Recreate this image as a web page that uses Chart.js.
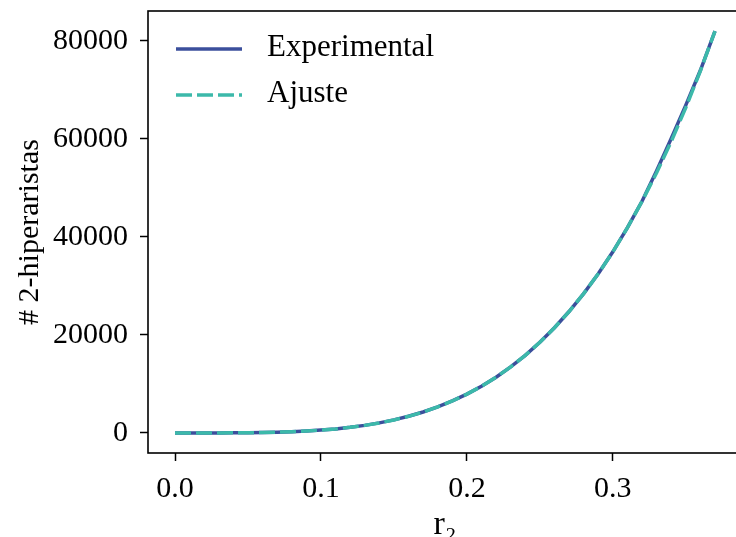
<!DOCTYPE html>
<html>
<head>
<meta charset="utf-8">
<script src="https://cdn.jsdelivr.net/npm/chart.js@4.4.1/dist/chart.umd.min.js"></script>
<style>
  html, body { margin: 0; padding: 0; background: #fff; overflow: hidden; width: 736px; height: 537px; }
  #wrap { position: absolute; left: 0; top: 0; width: 760px; height: 560px; }
</style>
</head>
<body>
<div id="wrap"><canvas id="chart"></canvas></div>
<script>
// r_2 values and counts
var r2 = [0.00, 0.01, 0.02, 0.03, 0.04, 0.05, 0.06, 0.07, 0.08, 0.09,
          0.10, 0.11, 0.12, 0.13, 0.14, 0.15, 0.16, 0.17, 0.18, 0.19,
          0.20, 0.21, 0.22, 0.23, 0.24, 0.25, 0.26, 0.27, 0.28, 0.29,
          0.30, 0.31, 0.32, 0.33, 0.34, 0.35, 0.36, 0.37];
var experimental = [0, 0, 1, 6, 18, 41, 82, 146, 244, 381,
                    569, 817, 1136, 1540, 2042, 2653, 3390, 4270, 5305, 6521,
                    7913, 9520, 11365, 13473, 15834, 18500, 21468, 24772, 28438, 32488,
                    36957, 41877, 47265, 53500, 60100, 66900, 74000, 82000];
var ajuste = [0, 0, 1, 6, 17, 40, 81, 145, 243, 380,
              568, 815, 1135, 1538, 2040, 2650, 3388, 4268, 5303, 6518,
              7910, 9517, 11360, 13468, 15830, 18495, 21460, 24765, 28430, 32480,
              36950, 41870, 47260, 53090, 59480, 66380, 73890, 82000];
var xTicks = [0.0, 0.1, 0.2, 0.3];
var yTicks = [0, 20000, 40000, 60000, 80000];

var BLUE = '#3b4f9c';
var TEAL = '#3cb9aa';
var FONT = 'Liberation Serif';

function points(ys) {
  return r2.map(function (x, i) { return { x: x, y: ys[i] }; });
}

// box round the plot plus the legend in its top left corner
var framePlugin = {
  id: 'frame',
  afterDraw: function (chart) {
    var ctx = chart.ctx, a = chart.chartArea;
    ctx.save();
    ctx.strokeStyle = '#000';
    ctx.lineWidth = 1.6;
    ctx.strokeRect(a.left, a.top, a.right - a.left, a.bottom - a.top);

    var items = chart.data.datasets;
    var rows = [49, 95];
    ctx.font = '31px "' + FONT + '"';
    ctx.textBaseline = 'middle';
    ctx.fillStyle = '#000';
    items.forEach(function (ds, i) {
      ctx.beginPath();
      ctx.strokeStyle = ds.borderColor;
      ctx.lineWidth = ds.borderWidth;
      ctx.setLineDash(ds.borderDash || []);
      ctx.moveTo(176, rows[i]);
      ctx.lineTo(242, rows[i]);
      ctx.stroke();
      ctx.setLineDash([]);
      ctx.fillText(ds.label, 267, rows[i] - 1);
    });
    ctx.restore();
  }
};

new Chart(document.getElementById('chart').getContext('2d'), {
  type: 'line',
  data: {
    datasets: [{
      label: 'Experimental',
      data: points(experimental),
      borderColor: BLUE,
      borderWidth: 3.5,
      pointRadius: 0,
      tension: 0,
      order: 2
    }, {
      label: 'Ajuste',
      data: points(ajuste),
      borderColor: TEAL,
      borderWidth: 3.5,
      borderDash: [16, 5],
      pointRadius: 0,
      tension: 0,
      order: 1
    }]
  },
  options: {
    responsive: true,
    maintainAspectRatio: false,
    animation: false,
    layout: { padding: { left: 0, top: 11, right: 18, bottom: 0 } },
    plugins: {
      legend: { display: false },
      tooltip: { enabled: false }
    },
    scales: {
      x: {
        type: 'linear',
        min: -0.0185,
        max: 0.3885,
        afterBuildTicks: function (scale) {
          scale.ticks = xTicks.map(function (v) { return { value: v }; });
        },
        afterFit: function (scale) {
          scale.height = 107;
          scale.paddingLeft = 0;
          scale.paddingRight = 0;
        },
        border: { display: false },
        grid: {
          drawOnChartArea: false,
          drawTicks: true,
          tickLength: 8,
          tickWidth: 1.5,
          tickColor: '#000'
        },
        ticks: {
          color: '#000',
          padding: 10,
          maxRotation: 0,
          font: { family: FONT, size: 30 },
          callback: function (v) { return v.toFixed(1); }
        },
        title: {
          display: true,
          text: 'r\u2082',
          color: '#000',
          font: { family: FONT, size: 34 },
          padding: { top: 0, bottom: 15 }
        }
      },
      y: {
        min: -4100,
        max: 86100,
        afterBuildTicks: function (scale) {
          scale.ticks = yTicks.map(function (v) { return { value: v }; });
        },
        afterFit: function (scale) {
          scale.width = 148;
          scale.paddingTop = 0;
          scale.paddingBottom = 0;
        },
        border: { display: false },
        grid: {
          drawOnChartArea: false,
          drawTicks: true,
          tickLength: 8,
          tickWidth: 1.5,
          tickColor: '#000'
        },
        ticks: {
          color: '#000',
          padding: 12,
          font: { family: FONT, size: 30 },
          callback: function (v) { return String(v); }
        },
        title: {
          display: true,
          text: '# 2-hiperaristas',
          color: '#000',
          font: { family: FONT, size: 30 },
          padding: { top: 12, bottom: 0 }
        }
      }
    }
  },
  plugins: [framePlugin]
});
</script>
</body>
</html>
